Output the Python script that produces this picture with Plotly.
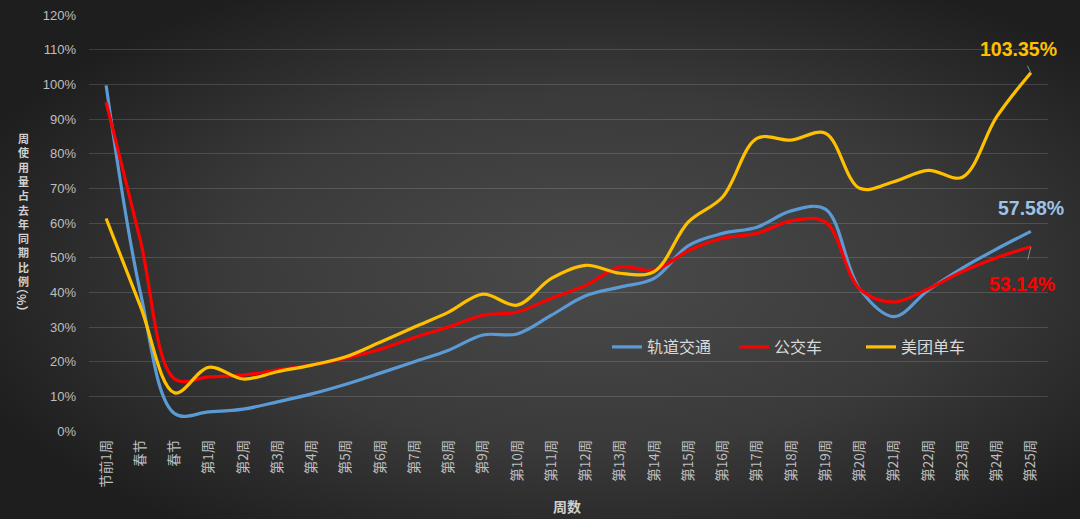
import base64
import plotly.graph_objects as go

# ---------------- data ----------------
categories = ["节前1周", "春节", "春节"] + [f"第{i}周" for i in range(1, 26)]

metro = [99.7, 40, 5, 5.5, 6.3, 8.4, 10.7, 13.5, 16.7, 20, 23.3, 27.7, 28, 33.4,
         39, 41.5, 44, 53.5, 57, 58.8, 63.5, 64, 41, 33, 40.6, 47, 52.5, 57.58]
bus = [94.9, 55, 15, 15.6, 16.1, 17.6, 19, 21, 23.6, 27, 30, 33.4, 34.3, 38.3,
       42, 47.3, 46.4, 52, 55.6, 57, 60.6, 60.3, 41, 37.2, 41, 46, 50, 53.14]
bike = [61.3, 36, 11, 18.4, 15, 17.1, 19, 21.4, 25.6, 30, 34.3, 39.5, 36.3, 44,
        47.8, 45.5, 46, 60.3, 67.5, 84.4, 83.9, 85.9, 70, 71.9, 75.2, 73.2, 90.6, 103.35]

series_names = ["轨道交通", "公交车", "美团单车"]
series_colors = ["#5B9BD5", "#FF0000", "#FFC000"]
y_ticks = list(range(0, 121, 10))

y_title = "周使用量占去年同期比例"
y_title_tail = "（%）"
x_title = "周数"

# ---------------- layout geometry ----------------
W, H = 1080, 519
L, R, T, B = 89, 32, 15, 88
PW, PH = W - L - R, H - T - B


def px(xp):
    return (xp - L) / PW


def py(yp):
    return (H - B - yp) / PH


CJK = "Noto Sans CJK SC, Microsoft YaHei, sans-serif"
NUM = "Liberation Sans, Arial, sans-serif"
tick_color = "#BFBFBF"

x_idx = list(range(len(categories)))

fig = go.Figure()
for name, vals, col in zip(series_names, [metro, bus, bike], series_colors):
    fig.add_trace(go.Scatter(
        x=x_idx, y=vals, name=name, mode="lines",
        line=dict(color=col, width=3.2, shape="spline", smoothing=1.0),
        hoverinfo="skip",
    ))

# background gradient
svg = (
    f"<svg xmlns='http://www.w3.org/2000/svg' width='{W}' height='{H}'>"
    "<defs><radialGradient id='g' cx='55%' cy='52%' r='62%'>"
    "<stop offset='0' stop-color='#4a4a4a'/>"
    "<stop offset='0.55' stop-color='#3a3a3a'/>"
    "<stop offset='1' stop-color='#1e1e1e'/>"
    "</radialGradient></defs>"
    f"<rect width='{W}' height='{H}' fill='url(#g)'/></svg>"
)
src = "data:image/svg+xml;base64," + base64.b64encode(svg.encode()).decode()

annotations = []
# vertical y-axis title (stacked upright characters)
annotations.append(dict(
    text="<b>" + "<br>".join(y_title) + "</b>", xref="paper", yref="paper",
    x=px(23), y=py(128), showarrow=False, align="center",
    font=dict(family=CJK, size=11, color="#D0D0D0"),
    xanchor="center", yanchor="top",
))
annotations.append(dict(
    text=f"<b>{y_title_tail}</b>", xref="paper", yref="paper", x=px(23), y=py(300),
    showarrow=False, textangle=90, font=dict(family=CJK, size=12, color="#D0D0D0"),
    xanchor="center", yanchor="middle",
))
annotations.append(dict(
    text=f"<b>{x_title}</b>", xref="paper", yref="paper", x=px(567), y=py(506),
    showarrow=False, font=dict(family=CJK, size=14, color="#D0D0D0"),
    xanchor="center", yanchor="middle",
))

last = len(categories) - 1
# end-value labels
annotations.append(dict(
    x=last, y=bike[-1], xref="x", yref="y", text=f"<b>{bike[-1]:.2f}%</b>",
    showarrow=True, arrowhead=0, arrowwidth=1, arrowcolor="#8C8C8C",
    ax=-12, ay=-24, startstandoff=5,
    font=dict(family=NUM, size=19.5, color="#FFC000"),
))
annotations.append(dict(
    x=last, y=metro[-1], xref="x", yref="y", text=f"<b>{metro[-1]:.2f}%</b>",
    showarrow=True, arrowhead=0, arrowwidth=1, arrowcolor="rgba(0,0,0,0)",
    ax=0, ay=-23,
    font=dict(family=NUM, size=19.5, color="#9DC3E6"),
))
annotations.append(dict(
    x=last, y=bus[-1], xref="x", yref="y", text=f"<b>{bus[-1]:.2f}%</b>",
    showarrow=True, arrowhead=0, arrowwidth=1, arrowcolor="#8C8C8C",
    ax=-9, ay=37, startstandoff=12,
    font=dict(family=NUM, size=19.5, color="#FF0000"),
))

fig.update_layout(
    width=W, height=H,
    margin=dict(l=L, r=R, t=T, b=B, autoexpand=False),
    paper_bgcolor="#2e2e2e",
    plot_bgcolor="rgba(0,0,0,0)",
    images=[dict(source=src, xref="paper", yref="paper",
                 x=-L / PW, y=1 + T / PH, sizex=W / PW, sizey=H / PH,
                 xanchor="left", yanchor="top", sizing="stretch", layer="below")],
    showlegend=True,
    legend=dict(
        orientation="h", x=px(607), y=py(347), xanchor="left", yanchor="middle",
        bgcolor="rgba(0,0,0,0)", font=dict(family=CJK, size=16, color="#D9D9D9"),
        entrywidth=82, entrywidthmode="pixels",
    ),
    xaxis=dict(
        range=[-0.5, len(categories) - 0.5],
        tickmode="array", tickvals=x_idx, ticktext=categories,
        tickangle=-90, tickfont=dict(family=CJK, size=13.5, color=tick_color),
        showgrid=False, zeroline=False, showline=False, ticks="", automargin=False,
        ticklabelstandoff=5,
    ),
    yaxis=dict(
        range=[0, 120], tickmode="array", tickvals=y_ticks,
        ticktext=[f"{v}%" for v in y_ticks],
        tickfont=dict(family=NUM, size=13, color=tick_color),
        showgrid=True, gridcolor="rgba(255,255,255,0.14)", gridwidth=1,
        zeroline=False, showline=False, ticks="", ticklabelstandoff=12,
        automargin=False,
    ),
    annotations=annotations,
)

fig.write_html(
    "out.html",
    config={"displayModeBar": False},
    post_script="document.body.style.margin='0px';document.body.style.background='#2e2e2e';",
)
